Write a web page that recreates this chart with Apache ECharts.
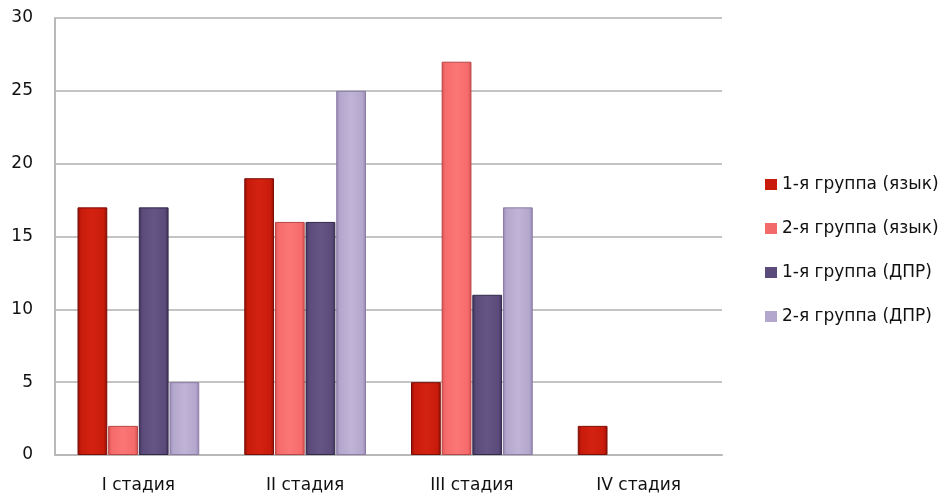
<!DOCTYPE html>
<html>
<head>
<meta charset="utf-8">
<script src="https://cdn.jsdelivr.net/npm/echarts@6/dist/echarts.min.js"></script>
<style>
  html, body { margin: 0; padding: 0; background: #ffffff; }
  #chart { width: 945px; height: 497px; }
</style>
</head>
<body>
<div id="chart"></div>
<script>
// Stages of the disease along the category axis
const categories = ['I стадия', 'II стадия', 'III стадия', 'IV стадия'];

// Patient counts per group
const group1Tongue = [17, 19, 5, 2];
const group2Tongue = [2, 16, 27, 0];
const group1Floor = [17, 16, 11, 0];
const group2Floor = [5, 25, 17, 0];

const seriesNames = ['1-я группа (язык)', '2-я группа (язык)', '1-я группа (ДПР)', '2-я группа (ДПР)'];

// Value axis ticks
const yMin = 0, yMax = 30, yStep = 5;

const FONT = 'DejaVu Sans, Open Sans, sans-serif';

// Bevelled look: darker edges, lighter middle
function bevel(edge, mid, light) {
  return new echarts.graphic.LinearGradient(0, 0, 1, 0, [
    { offset: 0, color: edge },
    { offset: 0.12, color: mid },
    { offset: 0.5, color: light },
    { offset: 0.88, color: mid },
    { offset: 1, color: edge }
  ]);
}

const palette = [
  { edge: '#8e0f05', mid: '#c81b0c', light: '#d42210', border: '#7a0d05', legend: '#c81b0c' },
  { edge: '#d8504f', mid: '#f66b6b', light: '#fb7676', border: '#b84444', legend: '#f36a6a' },
  { edge: '#3d3057', mid: '#5b4b7b', light: '#655584', border: '#33284a', legend: '#5b4b7b' },
  { edge: '#9586b0', mid: '#b4a7cd', light: '#bfb3d6', border: '#8a7ca5', legend: '#b4a7cd' }
];

const values = [group1Tongue, group2Tongue, group1Floor, group2Floor];

const series = values.map((data, i) => ({
  name: seriesNames[i],
  type: 'bar',
  data: data.map(v => (v === 0 ? null : v)),
  barGap: '3%',
  barCategoryGap: '27%',
  itemStyle: {
    color: bevel(palette[i].edge, palette[i].mid, palette[i].light),
    borderColor: palette[i].border,
    borderWidth: 1
  }
}));

const chart = echarts.init(document.getElementById('chart'), null, { renderer: 'canvas' });

chart.setOption({
  animation: false,
  backgroundColor: '#ffffff',
  textStyle: { fontFamily: FONT },
  grid: { left: 55, right: 223, top: 18, bottom: 42, containLabel: false },
  legend: {
    orient: 'vertical',
    left: 760,
    top: 171,
    itemWidth: 12,
    itemHeight: 11,
    itemGap: 27,
    itemTextGap: 5,
    icon: 'rect',
    data: seriesNames.map((n, i) => ({ name: n, itemStyle: { color: palette[i].legend, borderWidth: 0 } })),
    textStyle: { fontSize: 17, color: '#111111', fontFamily: FONT }
  },
  xAxis: {
    type: 'category',
    data: categories,
    axisLine: { show: true, lineStyle: { color: '#b8b8b8', width: 2 } },
    axisTick: { show: false },
    axisLabel: { fontSize: 17, color: '#111111', margin: 22 },
    splitLine: { show: false }
  },
  yAxis: {
    type: 'value',
    min: yMin,
    max: yMax,
    interval: yStep,
    axisLine: { show: true, lineStyle: { color: '#b8b8b8', width: 2 } },
    axisTick: { show: false },
    axisLabel: { fontSize: 17, color: '#111111', margin: 22, padding: [6, 0, 0, 0] },
    splitLine: { show: true, lineStyle: { color: '#c4c4c4', width: 2 } }
  },
  series: series
});
</script>
</body>
</html>
